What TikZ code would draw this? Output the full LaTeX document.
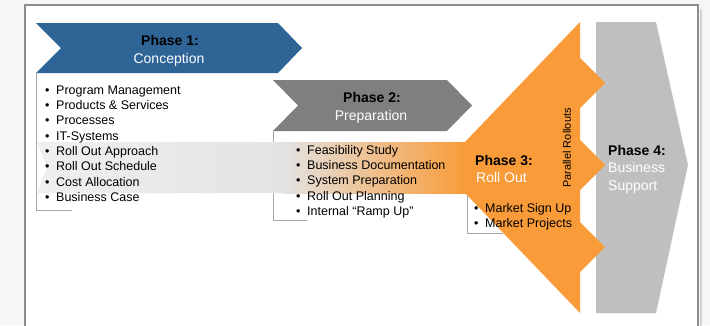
\documentclass[tikz,border=0pt]{standalone}
\usepackage{fontspec}
\setmainfont{Liberation Sans}
\usetikzlibrary{positioning}
\definecolor{phaseblue}{HTML}{2F6497}
\definecolor{phasegray}{HTML}{7F7F7F}
\definecolor{rollorange}{HTML}{F99B38}
\definecolor{supportgray}{HTML}{BFBFBF}
\definecolor{framegray}{HTML}{8C8C8C}
\newcommand{\itm}[1]{\makebox[11pt][l]{\textbullet}#1}

\begin{document}
\begin{tikzpicture}[x=1pt,y=-1pt,
        title/.style={font=\fontsize{14}{16}\selectfont\bfseries, text=black, inner sep=0pt, anchor=base},
        subtitle/.style={font=\fontsize{14}{18}\selectfont, text=white, inner sep=0pt, anchor=base},
        items/.style={font=\fontsize{12.5}{15.3}\selectfont, align=left, anchor=north west, inner sep=0pt},
        boxline/.style={draw=gray!70, line width=0.8pt}]
        \useasboundingbox (0,0) rectangle (710,325);
        \fill[gray!7] (0,0) rectangle (710,325);
        \fill[white] (25,5) rectangle (698,330);
        \draw[gray!35, line width=2.5pt] (701,9) -- (701,330);
        \draw[framegray, line width=1.2pt] (25,330) -- (25,5) -- (698,5) -- (698,330);

        % phase 4 block
        \fill[supportgray] (596,22) -- (656,22) -- (688,165) -- (656,313) -- (596,313) -- cycle;

        % list boxes
        \draw[boxline] (72,210) -- (36,210) -- (36,73);
        \draw[boxline] (307,220) -- (273,220) -- (273,131);
        \draw[boxline] (503,233) -- (467,233) -- (467,193);

        % band
        \shade[left color=gray!12, right color=gray!22] (37,142) -- (284,142) -- (284,193) -- (37,193) -- (47,167.5) -- cycle;
        \shade[left color=gray!22, right color=rollorange] (283,142) rectangle (467,193);

        % phase 3 block
        \fill[rollorange] (465,142) -- (580,22) -- (580,58) -- (605,83) -- (580,108) -- (580,140)
            -- (605,165) -- (580,190) -- (580,222) -- (605,247) -- (580,272) -- (580,313)
            -- (465,193) -- cycle;

        % chevrons
        \fill[phaseblue] (36,23) -- (278,23) -- (302,48) -- (278,73) -- (36,73) -- (61,48) -- cycle;
        \fill[phasegray] (273,80) -- (447,80) -- (472,105.5) -- (447,131) -- (273,131) -- (298,105.5) -- cycle;

        \node[title] (p1) at (170,45) {Phase 1:};
        \node[subtitle] (p1s) at (169,63) {Conception};
        \node[title] (p2) at (372,102) {Phase 2:};
        \node[subtitle] (p2s) at (371,120) {Preparation};
        \node[title, anchor=base west] (p3) at (475,165) {Phase 3:};
        \node[subtitle, anchor=base west] (p3s) at (476,182) {Roll Out};
        \node[title, anchor=base west] (p4) at (608,155) {Phase 4:};
        \node[subtitle, anchor=base west, align=left] (p4s) at (608,190) {Business\\Support};

        \node[font=\fontsize{11}{13}\selectfont, rotate=90, inner sep=0pt] (par) at (567,148) {Parallel Rollouts};

        \node[items] (l1) at (45,85.5) {\itm{Program Management}\\ \itm{Products \& Services}\\
            \itm{Processes}\\ \itm{IT-Systems}\\ \itm{Roll Out Approach}\\ \itm{Roll Out Schedule}\\
            \itm{Cost Allocation}\\ \itm{Business Case}};
        \node[items] (l2) at (296,145) {\itm{Feasibility Study}\\ \itm{Business Documentation}\\
            \itm{System Preparation}\\ \itm{Roll Out Planning}\\ \itm{Internal ``Ramp Up''}};
        \node[items] (l3) at (474,203) {\itm{Market Sign Up}\\ \itm{Market Projects}};
\end{tikzpicture}
\end{document}
